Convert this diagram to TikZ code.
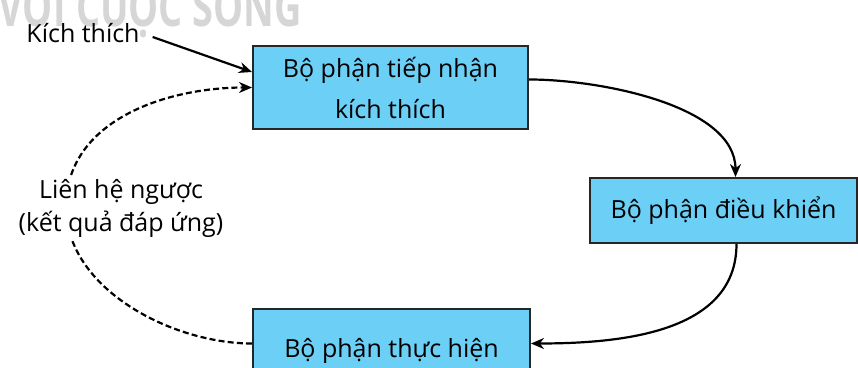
\documentclass[tikz,border=0pt]{standalone}
\usepackage{fontspec}
\setmainfont{Open Sans}
\usetikzlibrary{arrows.meta}
\definecolor{PartBlue}{HTML}{6CCFF6}
\definecolor{MarkGray}{HTML}{D6D6D6}

\begin{document}
\begin{tikzpicture}[x=0.5pt, y=-0.5pt,
    part/.style={draw=black!85, line width=1pt, fill=PartBlue, align=center,
      inner sep=0pt, font=\fontsize{12.5}{20.5}\selectfont},
    label/.style={font=\fontsize{12.5}{16.5}\selectfont},
    flow/.style={line width=1.1pt, -{Stealth[length=6.5pt,width=5.5pt]}},
    back/.style={flow, dash pattern=on 3pt off 1.6pt}]
  \useasboundingbox (0,0) rectangle (858,368);
  \begin{scope}
    \clip (0,0) rectangle (858,368);
    % watermark, cut at the top edge
    \node[MarkGray, anchor=base west, inner sep=0pt, font=\bfseries\fontsize{27}{27}\selectfont]
      (mark) at (-2,27) {\scalebox{0.7}[1]{VỚI CUỘC SỐNG}};
    % the three parts
    \node[part, minimum width=137.5pt, minimum height=41.5pt] (recv) at (390.5,87.5) {Bộ phận tiếp nhận\\kích thích};
    \node[part, minimum width=133.5pt, minimum height=32.5pt] (ctrl) at (723.5,210.5) {Bộ phận điều khiển};
    \node[part, minimum width=138.5pt, minimum height=41.5pt] (exec) at (391.5,350.5) {Bộ phận thực hiện};
    % texts
    \node[label] (stim) at (83,33) {Kích thích};
    \coordinate (bend) at (66,207);
    \draw[back] ([yshift=3.5pt]exec.west) to[out=180,in=-90,looseness=0.9] (bend)
      to[out=90,in=180] (recv.west);
    \node[label, fill=white, align=center, inner sep=1pt] (fbtext) at (121,208) {Liên hệ ngược\\(kết quả đáp ứng)};
    % connectors
    \draw[flow] ([xshift=3pt,yshift=-2pt]stim.east) -- ([yshift=7.75pt]recv.west);
    \draw[flow] ([yshift=4pt]recv.east) to[out=0,in=90,looseness=0.8] ([xshift=6pt]ctrl.north);
    \draw[flow] ([xshift=6.5pt]ctrl.south) to[out=-90,in=0] ([yshift=3.5pt]exec.east);
  \end{scope}
\end{tikzpicture}
\end{document}
